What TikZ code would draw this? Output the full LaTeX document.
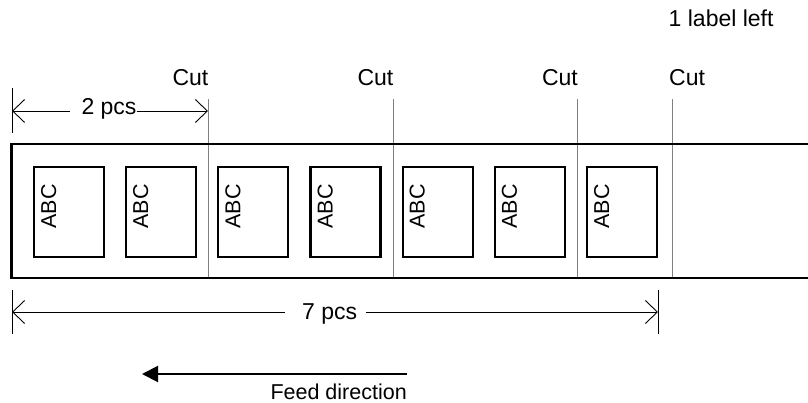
\documentclass[tikz,border=0pt]{standalone}
\usepackage{fontspec}
\setmainfont{Liberation Sans}
\usetikzlibrary{arrows.meta,calc}
\definecolor{cutgray}{RGB}{128,128,128}
\begin{document}
\begin{tikzpicture}[x=1pt,y=-1pt,
  tape/.style={line width=2.5pt},
  labelbox/.style={draw, line width=2.2pt, minimum width=70pt, minimum height=90pt, inner sep=0pt, outer sep=0pt, anchor=north west},
  abc/.style={rotate=90, anchor=base east, inner sep=0pt, font=\fontsize{21.5}{24}\selectfont},
  txt/.style={inner sep=0pt, font=\fontsize{23}{26}\selectfont},
  ftxt/.style={inner sep=0pt, font=\fontsize{21.5}{24}\selectfont},
  cutline/.style={line width=1pt, draw=cutgray},
  dim/.style={line width=0.9pt},
  barb/.tip={Straight Barb[length=12pt,width=23pt]},
  feed/.style={line width=2pt, -{Triangle[length=16pt,width=16pt]}}
]
\useasboundingbox (0,0) rectangle (808,403);

% cut lines
\coordinate (c1t) at (208,99);   \coordinate (c1b) at (208,278);
\coordinate (c2t) at (393,99);   \coordinate (c2b) at (393,278);
\coordinate (c3t) at (577.5,99); \coordinate (c3b) at (577.5,278);
\coordinate (c4t) at (672,99);   \coordinate (c4b) at (672,278);
\foreach \c in {1,2,3,4} \draw[cutline] (c\c t) -- (c\c b);

% tape
\coordinate (tapeTR) at (810,144);
\coordinate (tapeTL) at (11.5,144);
\coordinate (tapeBL) at (11.5,278);
\coordinate (tapeBR) at (810,278);
\draw[tape] (tapeTR) -- (tapeTL) -- (tapeBL) -- (tapeBR);

% labels
\foreach \i in {0,...,6} {
  \node[labelbox] (b\i) at ({34+92.17*\i},167) {};
  \node[abc] (a\i) at ($(b\i.north west)+(22,17)$) {ABC};
}

% cut texts
\node[txt, anchor=base east] (cut1) at (208.5,85.5) {Cut};
\node[txt, anchor=base east] (cut2) at (393.5,85.5) {Cut};
\node[txt, anchor=base east] (cut3) at (578,85.5) {Cut};
\node[txt, anchor=base west] (cut4) at (669,85.5) {Cut};
\node[txt, anchor=base west] (left) at (668.5,27) {1 label left};

% 2 pcs dimension
\coordinate (e2t) at (12,88); \coordinate (e2b) at (12,133);
\draw[dim] (e2t) -- (e2b);
\coordinate (d2l) at (12,111); \coordinate (d2r) at (208,111);
\node[txt, anchor=base west] (p2) at (81.3,115) {2 pcs};
\draw[dim, barb-] (d2l) -- ($(d2l -| p2.west)+(-11.5,0)$);
\draw[dim, -barb] (d2l -| p2.east) -- (d2r);

% 7 pcs dimension
\coordinate (e7lt) at (12,290); \coordinate (e7lb) at (12,334);
\coordinate (e7rt) at (658,290); \coordinate (e7rb) at (658,334);
\draw[dim] (e7lt) -- (e7lb);
\draw[dim] (e7rt) -- (e7rb);
\coordinate (d7l) at (12,312); \coordinate (d7r) at (658,312);
\node[txt, anchor=base west] (p7) at (302,319) {7 pcs};
\draw[dim, barb-] (d7l) -- ($(d7l -| p7.west)+(-17,0)$);
\draw[dim, -barb] ($(d7l -| p7.east)+(9,0)$) -- (d7r);

% feed direction
\coordinate (feedR) at (407,374);
\coordinate (feedL) at (142,374);
\draw[feed] (feedR) -- (feedL);
\node[ftxt, anchor=base west] (feedtxt) at (270.3,399) {Feed direction};
\end{tikzpicture}
\end{document}
